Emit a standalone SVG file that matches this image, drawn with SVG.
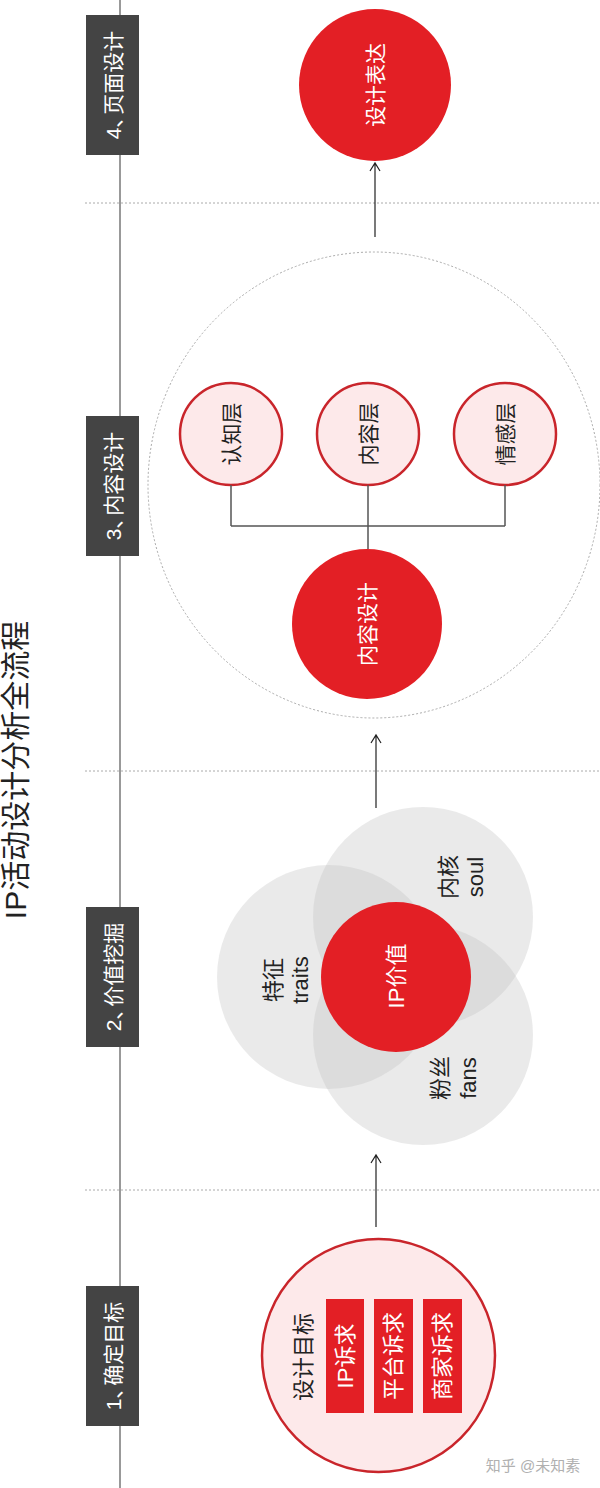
<svg xmlns="http://www.w3.org/2000/svg" width="600" height="1488" viewBox="0 0 600 1488">
<style>
text{font-family:"Liberation Sans","Noto Sans CJK SC",sans-serif;text-anchor:middle;dominant-baseline:central}
.lbl rect{fill:#444}
.lbl text{fill:#fff;font-size:21px}
.red{fill:#e31f25}
.pink{fill:#fde9ea;stroke:#c9252b;stroke-width:2.5}
.wt{fill:#fff;font-size:21px}
.dk{fill:#222;font-size:21px}
.venn{fill:#c4c4c4;fill-opacity:0.36}
.dash{stroke:#aaa;stroke-width:1;stroke-dasharray:2 2;fill:none}
.conn{stroke:#555;stroke-width:1.5;fill:none}
.arr{stroke:#222;stroke-width:1.2;fill:none}
</style>
<rect width="600" height="1488" fill="#fff"/>
<g id="title"><text transform="translate(15,770) rotate(-90)" style="font-size:30px;fill:#222">IP活动设计分析全流程</text></g>
<g id="timeline">
<line x1="120" y1="0" x2="120" y2="1488" stroke="#555" stroke-width="1.2"/>
<line class="dash" x1="85" y1="203" x2="600" y2="203"/>
<line class="dash" x1="85" y1="771" x2="600" y2="771"/>
<line class="dash" x1="85" y1="1190" x2="600" y2="1190"/>
</g>
<g id="stage4" class="lbl"><rect x="86" y="15" width="53" height="140"/><text transform="translate(112.5,85) rotate(-90)"><tspan>4、</tspan><tspan dx="-8">页面设计</tspan></text></g>
<g id="stage3" class="lbl"><rect x="86" y="416" width="53" height="140"/><text transform="translate(112.5,486) rotate(-90)"><tspan>3、</tspan><tspan dx="-8">内容设计</tspan></text></g>
<g id="stage2" class="lbl"><rect x="86" y="907" width="53" height="140"/><text transform="translate(112.5,977) rotate(-90)"><tspan>2、</tspan><tspan dx="-8">价值挖掘</tspan></text></g>
<g id="stage1" class="lbl"><rect x="86" y="1286" width="53" height="140"/><text transform="translate(112.5,1356) rotate(-90)"><tspan>1、</tspan><tspan dx="-8">确定目标</tspan></text></g>
<g id="design-express"><circle class="red" cx="375" cy="85" r="76"/><text class="wt" transform="translate(375,85) rotate(-90)">设计表达</text></g>
<g id="content-area"><ellipse class="dash" cx="374" cy="485" rx="226" ry="233"/></g>
<g id="cognition"><circle class="pink" cx="231" cy="434" r="51"/><text class="dk" transform="translate(231,434) rotate(-90)">认知层</text></g>
<g id="content-layer"><circle class="pink" cx="368" cy="434" r="51"/><text class="dk" transform="translate(368,434) rotate(-90)">内容层</text></g>
<g id="emotion"><circle class="pink" cx="505" cy="434" r="51"/><text class="dk" transform="translate(505,434) rotate(-90)">情感层</text></g>
<g id="content-design"><circle class="red" cx="367" cy="624" r="75"/><text class="wt" transform="translate(367,624) rotate(-90)">内容设计</text></g>
<g id="venn">
<circle class="venn" cx="329" cy="977" r="112"/>
<circle class="venn" cx="423" cy="917" r="110"/>
<circle class="venn" cx="423" cy="1035" r="110"/>
<circle class="red" cx="396" cy="977" r="75"/>
<text class="wt" style="font-size:22px" transform="translate(396,976) rotate(-90)">IP价值</text>
<text class="dk" style="font-size:22px" transform="translate(273,980) rotate(-90)">特征</text>
<text class="dk" style="font-size:22px" transform="translate(300,980) rotate(-90)">traits</text>
<text class="dk" style="font-size:22px" transform="translate(448,877) rotate(-90)">内核</text>
<text class="dk" style="font-size:22px" transform="translate(475,877) rotate(-90)">soul</text>
<text class="dk" style="font-size:22px" transform="translate(440,1078) rotate(-90)">粉丝</text>
<text class="dk" style="font-size:22px" transform="translate(468,1078) rotate(-90)">fans</text>
</g>
<g id="goal">
<circle class="pink" cx="378.5" cy="1355.5" r="116.5"/>
<text class="dk" style="font-size:22px" transform="translate(303,1357) rotate(-90)">设计目标</text>
<rect class="red" x="326" y="1299" width="38" height="114"/>
<text class="wt" style="font-size:22px" transform="translate(345,1356) rotate(-90)">IP诉求</text>
<rect class="red" x="374" y="1299" width="39" height="114"/>
<text class="wt" style="font-size:22px" transform="translate(393.5,1356) rotate(-90)">平台诉求</text>
<rect class="red" x="423" y="1299" width="39" height="114"/>
<text class="wt" style="font-size:22px" transform="translate(442.5,1356) rotate(-90)">商家诉求</text>
</g>
<g id="connectors">
<path class="conn" d="M231,485 V526 M505,485 V526 M368,485 V549 M231,526 H505"/>
<path class="arr" d="M375,237 V163 M370,171 L375,163 L380,171"/>
<path class="arr" d="M376,808 V735 M371,743 L376,735 L381,743"/>
<path class="arr" d="M376,1227 V1155 M371,1163 L376,1155 L381,1163"/>
</g>
<g id="watermark"><text x="533" y="1465" style="font-size:15px;fill:#b0b0b0">知乎 @未知素</text></g>
</svg>
